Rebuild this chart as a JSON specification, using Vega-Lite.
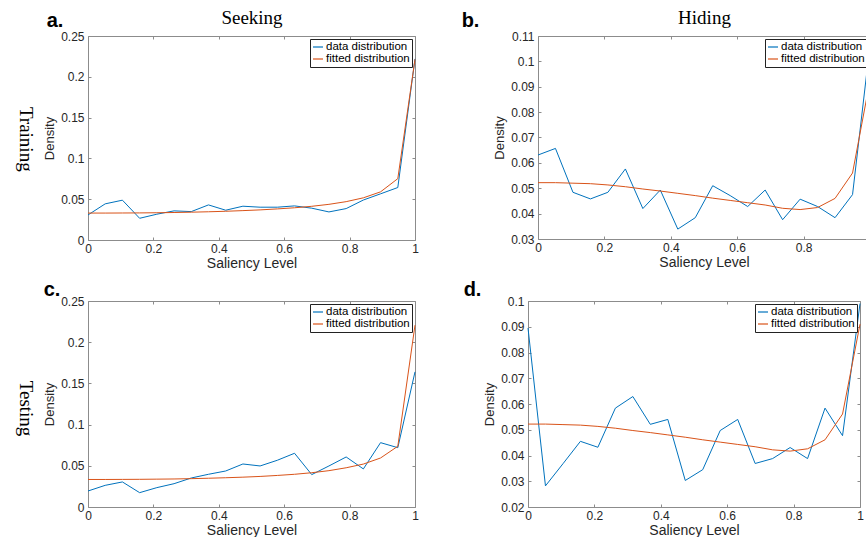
{
  "$schema": "https://vega.github.io/schema/vega-lite/v6.json",
  "padding": {"left": 15, "top": 8, "right": 0, "bottom": 0},
  "background": "white",
  "datasets": {
    "a": [
      {"x": 0, "density": 0.0307, "series": "data distribution"},
      {"x": 0.0526, "density": 0.0443, "series": "data distribution"},
      {"x": 0.1053, "density": 0.0488, "series": "data distribution"},
      {"x": 0.1579, "density": 0.0266, "series": "data distribution"},
      {"x": 0.2105, "density": 0.0316, "series": "data distribution"},
      {"x": 0.2632, "density": 0.0357, "series": "data distribution"},
      {"x": 0.3158, "density": 0.0348, "series": "data distribution"},
      {"x": 0.3684, "density": 0.043, "series": "data distribution"},
      {"x": 0.4211, "density": 0.0365, "series": "data distribution"},
      {"x": 0.4737, "density": 0.0414, "series": "data distribution"},
      {"x": 0.5263, "density": 0.0402, "series": "data distribution"},
      {"x": 0.5789, "density": 0.0402, "series": "data distribution"},
      {"x": 0.6316, "density": 0.0418, "series": "data distribution"},
      {"x": 0.6842, "density": 0.039, "series": "data distribution"},
      {"x": 0.7368, "density": 0.0344, "series": "data distribution"},
      {"x": 0.7895, "density": 0.0385, "series": "data distribution"},
      {"x": 0.8421, "density": 0.049, "series": "data distribution"},
      {"x": 0.8947, "density": 0.0566, "series": "data distribution"},
      {"x": 0.9474, "density": 0.0643, "series": "data distribution"},
      {"x": 1, "density": 0.222, "series": "data distribution"},
      {"x": 0, "density": 0.033, "series": "fitted distribution"},
      {"x": 0.0526, "density": 0.033, "series": "fitted distribution"},
      {"x": 0.1053, "density": 0.0331, "series": "fitted distribution"},
      {"x": 0.1579, "density": 0.0332, "series": "fitted distribution"},
      {"x": 0.2105, "density": 0.0334, "series": "fitted distribution"},
      {"x": 0.2632, "density": 0.0337, "series": "fitted distribution"},
      {"x": 0.3158, "density": 0.0341, "series": "fitted distribution"},
      {"x": 0.3684, "density": 0.0346, "series": "fitted distribution"},
      {"x": 0.4211, "density": 0.0352, "series": "fitted distribution"},
      {"x": 0.4737, "density": 0.036, "series": "fitted distribution"},
      {"x": 0.5263, "density": 0.0369, "series": "fitted distribution"},
      {"x": 0.5789, "density": 0.0381, "series": "fitted distribution"},
      {"x": 0.6316, "density": 0.0395, "series": "fitted distribution"},
      {"x": 0.6842, "density": 0.0413, "series": "fitted distribution"},
      {"x": 0.7368, "density": 0.0437, "series": "fitted distribution"},
      {"x": 0.7895, "density": 0.047, "series": "fitted distribution"},
      {"x": 0.8421, "density": 0.0517, "series": "fitted distribution"},
      {"x": 0.8947, "density": 0.059, "series": "fitted distribution"},
      {"x": 0.9474, "density": 0.0752, "series": "fitted distribution"},
      {"x": 1, "density": 0.2215, "series": "fitted distribution"}
    ],
    "b": [
      {"x": 0, "density": 0.0631, "series": "data distribution"},
      {"x": 0.0526, "density": 0.0657, "series": "data distribution"},
      {"x": 0.1053, "density": 0.0484, "series": "data distribution"},
      {"x": 0.1579, "density": 0.0458, "series": "data distribution"},
      {"x": 0.2105, "density": 0.0484, "series": "data distribution"},
      {"x": 0.2632, "density": 0.0576, "series": "data distribution"},
      {"x": 0.3158, "density": 0.042, "series": "data distribution"},
      {"x": 0.3684, "density": 0.0493, "series": "data distribution"},
      {"x": 0.4211, "density": 0.0339, "series": "data distribution"},
      {"x": 0.4737, "density": 0.0384, "series": "data distribution"},
      {"x": 0.5263, "density": 0.051, "series": "data distribution"},
      {"x": 0.5789, "density": 0.0471, "series": "data distribution"},
      {"x": 0.6316, "density": 0.0428, "series": "data distribution"},
      {"x": 0.6842, "density": 0.0493, "series": "data distribution"},
      {"x": 0.7368, "density": 0.0376, "series": "data distribution"},
      {"x": 0.7895, "density": 0.0457, "series": "data distribution"},
      {"x": 0.8421, "density": 0.0428, "series": "data distribution"},
      {"x": 0.8947, "density": 0.0384, "series": "data distribution"},
      {"x": 0.9474, "density": 0.0475, "series": "data distribution"},
      {"x": 1, "density": 0.1065, "series": "data distribution"},
      {"x": 0, "density": 0.0522, "series": "fitted distribution"},
      {"x": 0.0526, "density": 0.0522, "series": "fitted distribution"},
      {"x": 0.1053, "density": 0.052, "series": "fitted distribution"},
      {"x": 0.1579, "density": 0.0518, "series": "fitted distribution"},
      {"x": 0.2105, "density": 0.0513, "series": "fitted distribution"},
      {"x": 0.2632, "density": 0.0506, "series": "fitted distribution"},
      {"x": 0.3158, "density": 0.0497, "series": "fitted distribution"},
      {"x": 0.3684, "density": 0.0489, "series": "fitted distribution"},
      {"x": 0.4211, "density": 0.048, "series": "fitted distribution"},
      {"x": 0.4737, "density": 0.0471, "series": "fitted distribution"},
      {"x": 0.5263, "density": 0.0461, "series": "fitted distribution"},
      {"x": 0.5789, "density": 0.0452, "series": "fitted distribution"},
      {"x": 0.6316, "density": 0.0443, "series": "fitted distribution"},
      {"x": 0.6842, "density": 0.0434, "series": "fitted distribution"},
      {"x": 0.7368, "density": 0.0421, "series": "fitted distribution"},
      {"x": 0.7895, "density": 0.0416, "series": "fitted distribution"},
      {"x": 0.8421, "density": 0.0424, "series": "fitted distribution"},
      {"x": 0.8947, "density": 0.046, "series": "fitted distribution"},
      {"x": 0.9474, "density": 0.056, "series": "fitted distribution"},
      {"x": 1, "density": 0.0925, "series": "fitted distribution"}
    ],
    "c": [
      {"x": 0, "density": 0.0194, "series": "data distribution"},
      {"x": 0.0526, "density": 0.0263, "series": "data distribution"},
      {"x": 0.1053, "density": 0.0304, "series": "data distribution"},
      {"x": 0.1579, "density": 0.0174, "series": "data distribution"},
      {"x": 0.2105, "density": 0.0235, "series": "data distribution"},
      {"x": 0.2632, "density": 0.0283, "series": "data distribution"},
      {"x": 0.3158, "density": 0.0352, "series": "data distribution"},
      {"x": 0.3684, "density": 0.0397, "series": "data distribution"},
      {"x": 0.4211, "density": 0.0437, "series": "data distribution"},
      {"x": 0.4737, "density": 0.0522, "series": "data distribution"},
      {"x": 0.5263, "density": 0.0498, "series": "data distribution"},
      {"x": 0.5789, "density": 0.0567, "series": "data distribution"},
      {"x": 0.6316, "density": 0.0652, "series": "data distribution"},
      {"x": 0.6842, "density": 0.0393, "series": "data distribution"},
      {"x": 0.7368, "density": 0.0498, "series": "data distribution"},
      {"x": 0.7895, "density": 0.0607, "series": "data distribution"},
      {"x": 0.8421, "density": 0.0462, "series": "data distribution"},
      {"x": 0.8947, "density": 0.0781, "series": "data distribution"},
      {"x": 0.9474, "density": 0.072, "series": "data distribution"},
      {"x": 1, "density": 0.164, "series": "data distribution"},
      {"x": 0, "density": 0.0334, "series": "fitted distribution"},
      {"x": 0.0526, "density": 0.0334, "series": "fitted distribution"},
      {"x": 0.1053, "density": 0.0335, "series": "fitted distribution"},
      {"x": 0.1579, "density": 0.0336, "series": "fitted distribution"},
      {"x": 0.2105, "density": 0.0338, "series": "fitted distribution"},
      {"x": 0.2632, "density": 0.034, "series": "fitted distribution"},
      {"x": 0.3158, "density": 0.0344, "series": "fitted distribution"},
      {"x": 0.3684, "density": 0.0349, "series": "fitted distribution"},
      {"x": 0.4211, "density": 0.0355, "series": "fitted distribution"},
      {"x": 0.4737, "density": 0.0362, "series": "fitted distribution"},
      {"x": 0.5263, "density": 0.0371, "series": "fitted distribution"},
      {"x": 0.5789, "density": 0.0383, "series": "fitted distribution"},
      {"x": 0.6316, "density": 0.0397, "series": "fitted distribution"},
      {"x": 0.6842, "density": 0.0416, "series": "fitted distribution"},
      {"x": 0.7368, "density": 0.0441, "series": "fitted distribution"},
      {"x": 0.7895, "density": 0.0476, "series": "fitted distribution"},
      {"x": 0.8421, "density": 0.0521, "series": "fitted distribution"},
      {"x": 0.8947, "density": 0.0595, "series": "fitted distribution"},
      {"x": 0.9474, "density": 0.0737, "series": "fitted distribution"},
      {"x": 1, "density": 0.2207, "series": "fitted distribution"}
    ],
    "d": [
      {"x": 0, "density": 0.0895, "series": "data distribution"},
      {"x": 0.0526, "density": 0.0282, "series": "data distribution"},
      {"x": 0.1053, "density": 0.0368, "series": "data distribution"},
      {"x": 0.1579, "density": 0.0455, "series": "data distribution"},
      {"x": 0.2105, "density": 0.0432, "series": "data distribution"},
      {"x": 0.2632, "density": 0.0584, "series": "data distribution"},
      {"x": 0.3158, "density": 0.0629, "series": "data distribution"},
      {"x": 0.3684, "density": 0.0521, "series": "data distribution"},
      {"x": 0.4211, "density": 0.054, "series": "data distribution"},
      {"x": 0.4737, "density": 0.0303, "series": "data distribution"},
      {"x": 0.5263, "density": 0.0345, "series": "data distribution"},
      {"x": 0.5789, "density": 0.0497, "series": "data distribution"},
      {"x": 0.6316, "density": 0.054, "series": "data distribution"},
      {"x": 0.6842, "density": 0.0369, "series": "data distribution"},
      {"x": 0.7368, "density": 0.0388, "series": "data distribution"},
      {"x": 0.7895, "density": 0.0431, "series": "data distribution"},
      {"x": 0.8421, "density": 0.0388, "series": "data distribution"},
      {"x": 0.8947, "density": 0.0584, "series": "data distribution"},
      {"x": 0.9474, "density": 0.0477, "series": "data distribution"},
      {"x": 1, "density": 0.099, "series": "data distribution"},
      {"x": 0, "density": 0.0522, "series": "fitted distribution"},
      {"x": 0.0526, "density": 0.0522, "series": "fitted distribution"},
      {"x": 0.1053, "density": 0.052, "series": "fitted distribution"},
      {"x": 0.1579, "density": 0.0518, "series": "fitted distribution"},
      {"x": 0.2105, "density": 0.0513, "series": "fitted distribution"},
      {"x": 0.2632, "density": 0.0506, "series": "fitted distribution"},
      {"x": 0.3158, "density": 0.0497, "series": "fitted distribution"},
      {"x": 0.3684, "density": 0.0489, "series": "fitted distribution"},
      {"x": 0.4211, "density": 0.048, "series": "fitted distribution"},
      {"x": 0.4737, "density": 0.0471, "series": "fitted distribution"},
      {"x": 0.5263, "density": 0.0461, "series": "fitted distribution"},
      {"x": 0.5789, "density": 0.0452, "series": "fitted distribution"},
      {"x": 0.6316, "density": 0.0443, "series": "fitted distribution"},
      {"x": 0.6842, "density": 0.0434, "series": "fitted distribution"},
      {"x": 0.7368, "density": 0.0422, "series": "fitted distribution"},
      {"x": 0.7895, "density": 0.0417, "series": "fitted distribution"},
      {"x": 0.8421, "density": 0.0426, "series": "fitted distribution"},
      {"x": 0.8947, "density": 0.0461, "series": "fitted distribution"},
      {"x": 0.9474, "density": 0.0561, "series": "fitted distribution"},
      {"x": 1, "density": 0.091, "series": "fitted distribution"}
    ]
  },
  "vconcat": [
    {
      "title": {"text": "Training", "orient": "left", "angle": 90, "font": "Liberation Serif", "fontSize": 19, "fontWeight": "normal", "color": "black", "anchor": "middle", "offset": -10},
      "spacing": 42,
      "resolve": {"scale": {"color": "independent"}},
      "hconcat": [
        {
          "width": 327, "height": 204,
          "data": {"name": "a"},
          "title": {"text": "a.", "anchor": "start", "frame": "bounds", "dx": 3, "offset": -22},
          "layer": [
            {
              "mark": {"type": "line", "strokeWidth": 1},
              "encoding": {
                "x": {"field": "x", "type": "quantitative", "scale": {"domain": [0, 1], "nice": false}, "axis": {"orient": "bottom", "title": "Saliency Level", "values": [0, 0.2, 0.4, 0.6, 0.8, 1], "format": "~g"}},
                "y": {"field": "density", "type": "quantitative", "scale": {"domain": [0, 0.25], "nice": false, "zero": false}, "axis": {"orient": "left", "title": "Density", "values": [0, 0.05, 0.1, 0.15, 0.2, 0.25], "format": "~g"}},
                "color": {"field": "series", "type": "nominal", "scale": {"domain": ["data distribution", "fitted distribution"], "range": ["#0072BD", "#D95319"]}, "legend": {"orient": "top-right", "title": null}}
              }
            },
            {
              "mark": {"type": "line", "opacity": 0},
              "encoding": {
                "x": {"field": "x", "type": "quantitative", "axis": {"orient": "top", "labels": false, "title": "Seeking", "titleFont": "Liberation Serif", "titleFontSize": 19, "titleColor": "black", "titlePadding": 8, "values": [0, 0.2, 0.4, 0.6, 0.8, 1]}},
                "y": {"field": "density", "type": "quantitative", "axis": {"orient": "right", "labels": false, "title": null, "values": [0, 0.05, 0.1, 0.15, 0.2, 0.25]}}
              }
            }
          ],
          "resolve": {"axis": {"x": "independent", "y": "independent"}}
        },
        {
          "width": 332, "height": 203,
          "data": {"name": "b"},
          "title": {"text": "b.", "anchor": "start", "frame": "bounds", "dx": -32, "offset": -22},
          "layer": [
            {
              "mark": {"type": "line", "strokeWidth": 1},
              "encoding": {
                "x": {"field": "x", "type": "quantitative", "scale": {"domain": [0, 1], "nice": false}, "axis": {"orient": "bottom", "title": "Saliency Level", "values": [0, 0.2, 0.4, 0.6, 0.8, 1], "format": "~g"}},
                "y": {"field": "density", "type": "quantitative", "scale": {"domain": [0.03, 0.11], "nice": false, "zero": false}, "axis": {"orient": "left", "title": "Density", "values": [0.03, 0.04, 0.05, 0.06, 0.07, 0.08, 0.09, 0.1, 0.11], "format": "~g"}},
                "color": {"field": "series", "type": "nominal", "scale": {"domain": ["data distribution", "fitted distribution"], "range": ["#0072BD", "#D95319"]}, "legend": {"orient": "top-right", "title": null}}
              }
            },
            {
              "mark": {"type": "line", "opacity": 0},
              "encoding": {
                "x": {"field": "x", "type": "quantitative", "axis": {"orient": "top", "labels": false, "title": "Hiding", "titleFont": "Liberation Serif", "titleFontSize": 19, "titleColor": "black", "titlePadding": 8, "values": [0, 0.2, 0.4, 0.6, 0.8, 1]}},
                "y": {"field": "density", "type": "quantitative", "axis": {"orient": "right", "labels": false, "title": null, "values": [0.03, 0.04, 0.05, 0.06, 0.07, 0.08, 0.09, 0.1, 0.11]}}
              }
            }
          ],
          "resolve": {"axis": {"x": "independent", "y": "independent"}}
        }
      ]
    },
    {
      "title": {"text": "Testing", "orient": "left", "angle": 90, "font": "Liberation Serif", "fontSize": 19, "fontWeight": "normal", "color": "black", "anchor": "middle", "offset": -10},
      "spacing": 44,
      "resolve": {"scale": {"color": "independent"}},
      "hconcat": [
        {
          "width": 327, "height": 206,
          "data": {"name": "c"},
          "title": {"text": "c.", "anchor": "start", "frame": "bounds", "dx": 0, "offset": -5},
          "layer": [
            {
              "mark": {"type": "line", "strokeWidth": 1},
              "encoding": {
                "x": {"field": "x", "type": "quantitative", "scale": {"domain": [0, 1], "nice": false}, "axis": {"orient": "bottom", "title": "Saliency Level", "values": [0, 0.2, 0.4, 0.6, 0.8, 1], "format": "~g"}},
                "y": {"field": "density", "type": "quantitative", "scale": {"domain": [0, 0.25], "nice": false, "zero": false}, "axis": {"orient": "left", "title": "Density", "values": [0, 0.05, 0.1, 0.15, 0.2, 0.25], "format": "~g"}},
                "color": {"field": "series", "type": "nominal", "scale": {"domain": ["data distribution", "fitted distribution"], "range": ["#0072BD", "#D95319"]}, "legend": {"orient": "top-right", "title": null}}
              }
            },
            {
              "mark": {"type": "line", "opacity": 0},
              "encoding": {
                "x": {"field": "x", "type": "quantitative", "axis": {"orient": "top", "labels": false, "title": null, "values": [0, 0.2, 0.4, 0.6, 0.8, 1]}},
                "y": {"field": "density", "type": "quantitative", "axis": {"orient": "right", "labels": false, "title": null, "values": [0, 0.05, 0.1, 0.15, 0.2, 0.25]}}
              }
            }
          ],
          "resolve": {"axis": {"x": "independent", "y": "independent"}}
        },
        {
          "width": 332, "height": 206,
          "data": {"name": "d"},
          "title": {"text": "d.", "anchor": "start", "frame": "bounds", "dx": -20, "offset": -5},
          "layer": [
            {
              "mark": {"type": "line", "strokeWidth": 1},
              "encoding": {
                "x": {"field": "x", "type": "quantitative", "scale": {"domain": [0, 1], "nice": false}, "axis": {"orient": "bottom", "title": "Saliency Level", "values": [0, 0.2, 0.4, 0.6, 0.8, 1], "format": "~g"}},
                "y": {"field": "density", "type": "quantitative", "scale": {"domain": [0.02, 0.1], "nice": false, "zero": false}, "axis": {"orient": "left", "title": "Density", "values": [0.02, 0.03, 0.04, 0.05, 0.06, 0.07, 0.08, 0.09, 0.1], "format": "~g"}},
                "color": {"field": "series", "type": "nominal", "scale": {"domain": ["data distribution", "fitted distribution"], "range": ["#0072BD", "#D95319"]}, "legend": {"orient": "top-right", "title": null}}
              }
            },
            {
              "mark": {"type": "line", "opacity": 0},
              "encoding": {
                "x": {"field": "x", "type": "quantitative", "axis": {"orient": "top", "labels": false, "title": null, "values": [0, 0.2, 0.4, 0.6, 0.8, 1]}},
                "y": {"field": "density", "type": "quantitative", "axis": {"orient": "right", "labels": false, "title": null, "values": [0.02, 0.03, 0.04, 0.05, 0.06, 0.07, 0.08, 0.09, 0.1]}}
              }
            }
          ],
          "resolve": {"axis": {"x": "independent", "y": "independent"}}
        }
      ]
    }
  ],
  "spacing": 10,
  "resolve": {"scale": {"color": "independent"}},
  "config": {
    "font": "Liberation Sans",
    "view": {"stroke": null},
    "axis": {
      "grid": false,
      "domainColor": "#8c8c8c",
      "tickColor": "#8c8c8c",
      "tickSize": -3,
      "labelFontSize": 12,
      "labelColor": "#262626",
      "labelFont": "Liberation Sans",
      "labelFlush": false,
      "labelOverlap": false,
      "titleFont": "Liberation Sans",
      "titleFontWeight": "normal",
      "titleColor": "#262626"
    },
    "axisX": {"titleFontSize": 14, "labelPadding": 6, "titlePadding": 2},
    "axisY": {"titleFontSize": 13, "labelPadding": 7, "titlePadding": 4},
    "legend": {
      "orient": "top-right",
      "offset": 3,
      "padding": 2,
      "strokeColor": "#222222",
      "fillColor": "white",
      "labelFontSize": 11.5,
      "labelFont": "Liberation Sans",
      "labelColor": "black",
      "labelLimit": 200,
      "labelOffset": 2,
      "rowPadding": 0,
      "symbolType": "stroke",
      "symbolSize": 100,
      "symbolStrokeWidth": 1.2
    },
    "title": {
      "font": "Liberation Sans",
      "fontSize": 20,
      "fontWeight": "bold",
      "color": "black"
    }
  }
}
